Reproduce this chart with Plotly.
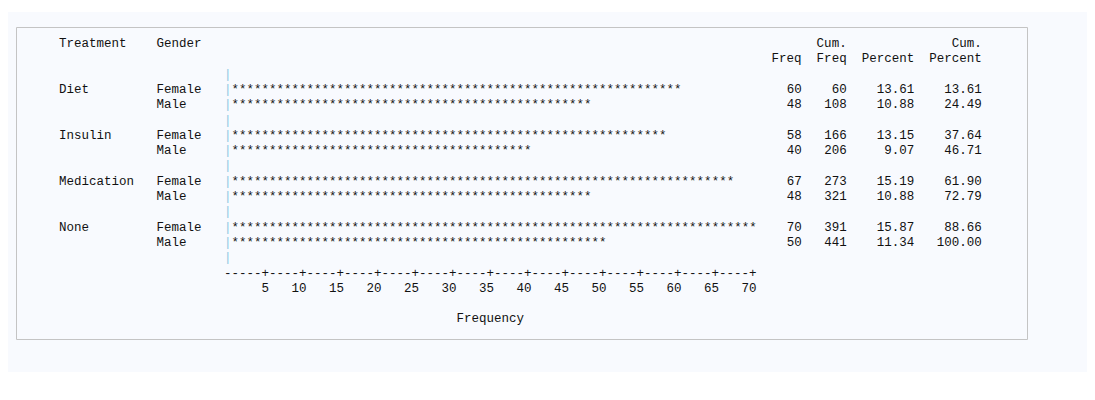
import plotly.graph_objects as go

# data
treatments = ["Diet", "Diet", "Insulin", "Insulin", "Medication", "Medication", "None", "None"]
genders = ["Female", "Male", "Female", "Male", "Female", "Male", "Female", "Male"]
freqs = [60, 48, 58, 40, 67, 48, 70, 50]
axis_ticks = [5, 10, 15, 20, 25, 30, 35, 40, 45, 50, 55, 60, 65, 70]

NB = "\u00a0"
BAR = '<span style="color:#8cc8e2">|</span>'
OFF = 8  # page body margin
X0, Y0, DY = 57 - OFF, 44 - OFF, 15.3

total = sum(freqs)
lines = []
lines.append("Treatment".ljust(13) + "Gender".ljust(81) + "Cum.".rjust(11) + "Cum.".rjust(18))
lines.append(" " * 94 + "Freq".rjust(5) + "Freq".rjust(6) + "Percent".rjust(9) + "Percent".rjust(9))
lines.append(" " * 22 + BAR)

cum = 0
for i, (t, g, f) in enumerate(zip(treatments, genders, freqs)):
    cum += f
    left = (t if i % 2 == 0 else "").ljust(13) + g.ljust(9)
    stars = "*" * f
    right = f"{f:>5}{cum:>6}{100 * f / total:>9.2f}{100 * cum / total:>9.2f}"
    lines.append(left + BAR + stars + " " * (94 - 23 - f) + right)
    if i % 2 == 1:
        lines.append(" " * 22 + BAR)

lines.append(" " * 22 + "-----+" + "----+" * (len(axis_ticks) - 1))
lines.append(" " * 27 + str(axis_ticks[0]) + "".join(f"{v:>5}" for v in axis_ticks[1:]))
lines.append("")
lines.append(" " * 53 + "Frequency")

fig = go.Figure()
annotations = []
for k, ln in enumerate(lines):
    # keep spaces outside the html tags
    parts = ln.split(BAR)
    txt = BAR.join(p.replace(" ", NB) for p in parts)
    if not txt:
        continue
    annotations.append(dict(
        x=X0, y=Y0 + k * DY, xref="x", yref="y", text=txt, showarrow=False,
        xanchor="left", yanchor="middle",
        font=dict(family="Liberation Mono, Courier New, monospace", size=12.5, color="#111111"),
    ))

fig.add_shape(type="rect", x0=-OFF, x1=1095, y0=12 - OFF, y1=372 - OFF, line=dict(width=0),
              fillcolor="#f8fafe", layer="below")
fig.add_shape(type="rect", x0=16.5 - OFF, x1=1027.5 - OFF, y0=27.5 - OFF, y1=339.5 - OFF,
              line=dict(color="#c4c4c4", width=1), fillcolor="rgba(0,0,0,0)", layer="below")

fig.update_layout(
    width=1095, height=400, margin=dict(l=0, r=0, t=0, b=0),
    paper_bgcolor="white", plot_bgcolor="white",
    xaxis=dict(range=[0, 1095], visible=False, fixedrange=True),
    yaxis=dict(range=[400, 0], visible=False, fixedrange=True),
    annotations=annotations, showlegend=False,
)
fig.write_html("out.html")
